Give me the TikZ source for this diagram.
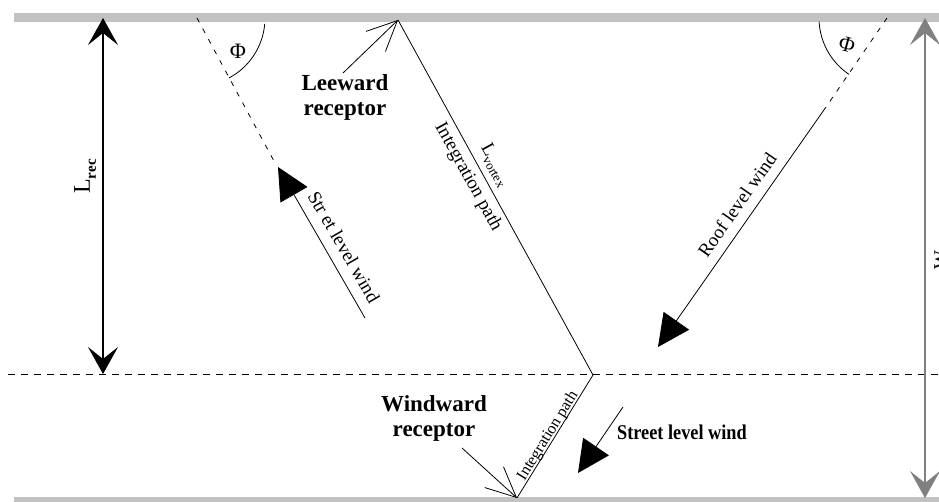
\documentclass[tikz,border=0pt]{standalone}
\usepackage{fontspec}
\setmainfont{Liberation Serif}
\newfontfamily\condfont[FakeStretch=0.87]{Liberation Serif}
\usetikzlibrary{arrows.meta}
\begin{document}
\begin{tikzpicture}[x=1pt,y=1pt,
  barline/.style={line width=9pt, draw=gray!48},
  wind/.style={line width=0.8pt, -{Triangle[length=32pt,width=31pt]}},
  dimarrow/.style={line width=1.1pt, {Stealth[length=27pt,width=30pt,inset=12pt]}-{Stealth[length=27pt,width=30pt,inset=12pt]}},
  recarrow/.style={line width=0.8pt, -{Straight Barb[length=30pt,width=28pt]}},
  dashslant/.style={line width=0.8pt, dash pattern=on 5pt off 7pt},
  dashhoriz/.style={line width=0.8pt, dash pattern=on 7pt off 6pt},
  pathline/.style={line width=0.8pt},
  bigtext/.style={font=\fontsize{23}{25}\selectfont\bfseries, align=center, inner sep=0pt},
  pathtext/.style={font=\fontsize{19}{21}\selectfont, inner sep=0pt},
  smalltext/.style={font=\fontsize{16}{18}\selectfont, inner sep=0pt},
  phitext/.style={font=\fontsize{22}{22}\selectfont, inner sep=0pt},
]
\useasboundingbox (0,0) rectangle (939,502);
\fill[white] (0,0) rectangle (939,502);

% walls
\coordinate (topL) at (14,484.5);
\coordinate (topR) at (945,484.5);
\coordinate (botL) at (14,0);
\coordinate (botR) at (945,0);
\draw[barline] (topL) -- (topR);
\draw[barline] (botL) -- (botR);

% roof-level dashed line
\coordinate (hL) at (8,128);
\coordinate (hR) at (945,128);
\draw[dashhoriz] (hL) -- (hR);

% L_rec dimension
\coordinate (lrecTop) at (103,484);
\coordinate (lrecBot) at (103,128);
\draw[dimarrow] (lrecTop) -- (lrecBot);
\node[rotate=90, font=\fontsize{24}{24}\selectfont, inner sep=0pt] (lrec) at (85,325.5)
  {L\raisebox{-0.25em}{\fontsize{15}{15}\selectfont\bfseries rec}};

% W dimension
\coordinate (wTop) at (925,484);
\coordinate (wBot) at (925,4);
\draw[dimarrow, color=gray] (wTop) -- (wBot);
\node[rotate=90, font=\fontsize{20}{20}\selectfont, inner sep=0pt] (wlab) at (941,242) {W};

% integration path (vortex)
\coordinate (lee) at (398,482);
\coordinate (junc) at (593,127);
\coordinate (windr) at (517,4);
\draw[pathline] (lee) -- (junc) -- (windr);
\node[pathtext, rotate=-61.2] (intpath) at (468,325) {Integration path};
\node[pathtext, rotate=-61.2] (lvortex) at (495,337)
  {L\raisebox{-0.25em}{\fontsize{13}{13}\selectfont vortex}};
\node[smalltext, rotate=58.3] (intpath2) at (548,66) {Integration path};

% receptors
\coordinate (leeTail) at (343,429);
\draw[recarrow] (leeTail) -- (lee);
\node[bigtext] (leelab) at (345,405) {Leeward\\receptor};
\coordinate (windTail) at (462,54);
\draw[recarrow] (windTail) -- (windr);
\node[bigtext] (windlab) at (434,84) {Windward\\receptor};

% street level wind, upper left
\coordinate (sA) at (197,484);
\coordinate (sB) at (275,339);
\draw[dashslant] (sA) -- (sB);
\coordinate (sTail) at (365,184);
\coordinate (sTip) at (278,335);
\draw[wind] (sTail) -- (sTip);
\node[pathtext, rotate=-60] (slw1) at (344,255) {Str et level wind};
\draw[pathline] (sA) ++(-5:68) arc[start angle=-5, end angle=-62, radius=68];
\node[phitext] (phi1) at (238,451) {Φ};

% roof level wind, right
\coordinate (rA) at (887,484);
\coordinate (rB) at (826,395);
\draw[dashslant] (rA) -- (rB);
\coordinate (rTip) at (658,155);
\draw[wind] (rB) -- (rTip);
\node[pathtext, rotate=55] (rlw) at (737,297) {Roof level wind};
\draw[pathline] (rA) ++(183:68) arc[start angle=183, end angle=236, radius=68];
\node[phitext, rotate=-15] (phi2) at (847,457) {Φ};

% street level wind, lower
\coordinate (lTail) at (623,95);
\coordinate (lTip) at (578,29);
\draw[wind] (lTail) -- (lTip);
\node[font=\fontsize{21}{21}\selectfont\bfseries\condfont, inner sep=0pt, anchor=west] (slw2) at (617,70) {Street level wind};
\end{tikzpicture}
\end{document}
